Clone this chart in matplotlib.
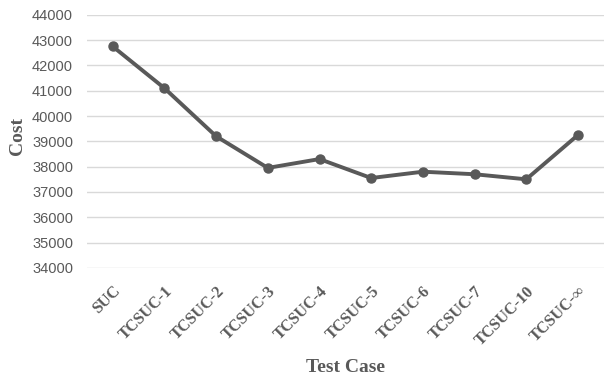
import numpy as np
import matplotlib.pyplot as plt

cases = ['SUC', 'TCSUC-1', 'TCSUC-2', 'TCSUC-3', 'TCSUC-4', 'TCSUC-5',
         'TCSUC-6', 'TCSUC-7', 'TCSUC-10', 'TCSUC-∞']
cost = [42750, 41100, 39200, 37950, 38300, 37550, 37800, 37700, 37500, 39250]

grey = '#595959'
serif = ['Liberation Serif', 'DejaVu Serif']

fig = plt.figure(figsize=(6.08, 3.81), dpi=100)
ax = fig.add_axes([0.143, 0.297, 0.85, 0.664])

x = np.arange(len(cases))
ax.plot(x, cost, color=grey, linewidth=2.8, marker='o', markersize=6.5)

ax.set_xlim(-0.5, len(cases) - 0.5)
ax.set_ylim(34000, 44000)
ax.set_yticks(range(34000, 44001, 1000))
ax.grid(axis='y', color='#d9d9d9', linewidth=1)
ax.set_axisbelow(True)
for s in ax.spines.values():
    s.set_visible(False)
ax.tick_params(length=0)

ax.set_xticks(x)
ax.set_xticklabels(cases, rotation=45, ha='right', rotation_mode='anchor',
                   family=serif, fontweight='bold', fontsize=11.6, color=grey)
for lab in ax.get_yticklabels():
    lab.set_family('Liberation Sans')
    lab.set_fontsize(10.5)
    lab.set_color(grey)
ax.tick_params(axis='x', pad=11)
ax.tick_params(axis='y', pad=10)

ax.set_xlabel('Test Case', family=serif, fontweight='bold', fontsize=14,
              color=grey, labelpad=8)
ax.set_ylabel('Cost', family=serif, fontweight='bold', fontsize=14,
              color=grey)
ax.yaxis.set_label_coords(-0.118, 0.52)

fig.savefig('out.png')
